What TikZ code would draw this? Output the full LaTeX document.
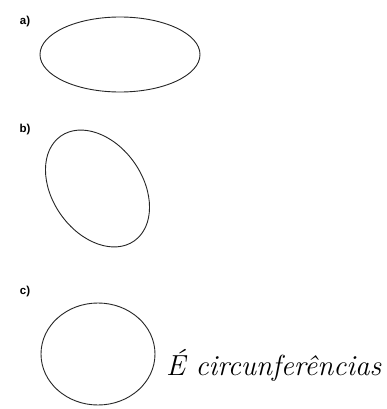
\documentclass[tikz,border=0pt]{standalone}
\usepackage{fontspec}
\setsansfont{Liberation Sans}
\begin{document}
\begin{tikzpicture}[
  x=1pt, y=-1pt,
  outline/.style={draw=black!85, line width=0.9pt},
  lbl/.style={font=\sffamily\bfseries\fontsize{11.5}{13}\selectfont, inner sep=0pt},
  hand/.style={font=\itshape\fontsize{29}{29}\selectfont, inner sep=0pt, anchor=base west}
]
  \useasboundingbox[fill=white] (0,0) rectangle (387,409);

  % a) flat ellipse
  \node[lbl] (la) at (25, 22) {a)};
  \coordinate (ea) at (120, 54.5);
  \draw[outline] (ea) ellipse [x radius=80pt, y radius=37.5pt];

  % b) tilted ellipse
  \node[lbl] (lb) at (25, 130) {b)};
  \coordinate (eb) at (97.5, 188.5);
  \draw[outline, rotate around={-55:(eb)}] (eb) ellipse [x radius=64pt, y radius=45pt];

  % c) circle
  \node[lbl] (lc) at (25, 292) {c)};
  \coordinate (ec) at (98, 354);
  \draw[outline] (ec) ellipse [x radius=57pt, y radius=51pt];
  \node[hand] (txt) at (166, 375) {É circunferências};
\end{tikzpicture}
\end{document}
